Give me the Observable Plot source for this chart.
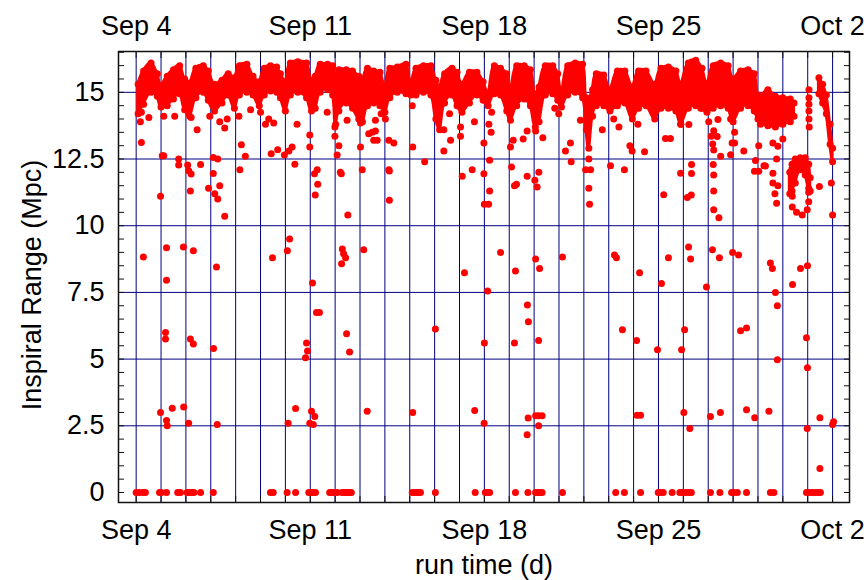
<!DOCTYPE html>
<html>
<head>
<meta charset="utf-8">
<script src="https://cdn.jsdelivr.net/npm/d3@7"></script>
<script src="https://cdn.jsdelivr.net/npm/@observablehq/plot@0.6"></script>
<style>
  html, body { margin: 0; padding: 0; background: #fff; }
  #chart { width: 868px; height: 580px; }
</style>
</head>
<body>
<div id="chart"></div>
<script>
// Run time is counted in days from Sep 4 00:00 UTC.
const runStart = Date.UTC(2009, 8, 4);

// Main inspiral-range band: upper and lower edge of the dense cloud of samples.
const bandDay = [0.08,0.3,0.6,0.85, 1.0,1.25,1.5,1.75,1.95, 2.15,2.4,2.7,2.9, 3.15,3.45,3.7,3.95,
  4.15,4.45,4.7,4.95, 5.15,5.4,5.65,5.8,6.0, 6.2,6.5,6.85,7.05, 7.2,7.4,7.7,7.9,8.02,
  8.15,8.45,8.7,8.95,9.1, 9.3,9.55,9.8,10.0, 10.2,10.5,10.85,11.05, 11.25,11.55,11.85,
  12.05,12.2,12.4,12.7,12.9, 13.1,13.4,13.7,13.95, 14.15,14.4,14.65,14.9,15.05,
  15.3,15.6,15.85,16.05, 16.2,16.45,16.75,16.95,17.1, 17.35,17.65,17.95,18.1,18.2,18.35,
  18.5,18.8,19.05, 19.35,19.65,19.95, 20.2,20.5,20.85, 21.1,21.4,21.7,21.9,
  22.2,22.5,22.75,22.95, 23.2,23.5,23.8,24.0, 24.3,24.6,24.85,25.0,
  25.1,25.4,25.7,26.0,26.3,26.45, 26.9, 27.45,27.6,27.75,27.9,28.0];
const bandHigh = [15.3,15.8,16.1,15.7, 15.25,15.6,15.85,16.0,15.5, 15.35,15.9,16.0,15.8, 15.3,15.45,15.7,15.55,
  16.0,16.05,15.6,15.4, 15.9,16.0,15.95,15.7,15.4, 16.1,16.15,16.1,15.45, 15.6,16.05,16.05,16.0,15.4,
  15.85,15.85,15.8,15.6,15.5, 15.9,15.8,15.75,15.2, 15.9,15.95,16.05,15.3, 15.9,16.0,16.0,
  15.45,15.2,15.7,15.9,15.75, 15.3,15.75,15.75,15.4, 14.95,16.0,15.9,15.7,15.05,
  16.0,16.0,15.85,14.9, 15.2,16.0,16.0,15.7,14.95, 16.0,16.1,16.05,14.8,14.7,15.1,
  15.7,15.65,15.1, 15.8,15.8,15.2, 15.8,15.8,15.3, 15.9,15.95,15.8,15.3,
  16.1,16.2,15.9,15.3, 16.0,16.1,16.0,15.5, 15.8,15.85,15.7,14.9,
  14.8,15.1,14.85,14.8,14.75,14.6, null, 15.55,15.3,14.9,13.8,12.9];
const bandLow = [14.2,14.55,15.0,14.85, 14.45,14.5,14.75,14.95,14.35, 14.1,14.8,15.0,14.7, 14.3,14.6,14.9,14.4,
  14.9,15.0,14.9,14.5, 14.9,15.05,15.0,14.8,14.3, 14.9,15.0,14.8,14.3, 14.4,15.0,15.1,14.9,13.8,
  14.3,14.6,14.4,14.0,13.9, 14.5,14.6,14.5,14.25, 14.8,15.0,14.95,14.9, 14.9,15.0,14.9,
  14.0,13.6,14.6,14.9,14.5, 14.25,14.6,14.9,14.7, 14.5,14.95,14.9,14.3,13.95,
  14.5,14.75,14.5,13.7, 13.9,14.9,14.95,14.7,14.45, 14.9,15.0,14.8,13.6,12.9,14.1,
  14.5,14.5,14.3, 14.5,14.6,14.0, 14.4,14.5,14.0, 14.4,14.4,14.3,13.8,
  14.4,14.5,14.4,14.25, 14.4,14.5,14.4,13.9, 14.4,14.5,14.3,14.0,
  13.8,13.75,13.7,13.8,13.9,14.1, null, 14.95,14.6,14.2,13.05,12.4];

// Reduced-range stretch on Sep 30 - Oct 1.
const archDay = [26.28,26.37,26.5,26.7,26.9,27.04,27.1];
const archHigh = [12.0,12.3,12.5,12.55,12.55,12.3,11.8];
const archLow = [11.2,11.3,11.6,12.1,11.9,11.4,11.3];

// Isolated samples below the band.
const highDay = [0.17,0.21,0.21,0.51,1.05,1.11,1.11,1.55,1.71,1.71,2.07,2.11,2.21,2.21,2.59,2.45,2.96,3.10,3.28,3.10,
  2.91,3.36,3.16,3.28,3.56,2.18,0.98,3.56,3.36,3.66,4.13,4.17,4.23,4.39,4.6,5.0,5.2,5.53,5.33,5.43,
  5.69,5.96,6.14,6.27,6.38,6.47,6.98,6.98,7.17,7.28,7.3,7.2,7.99,8.15,8.08,8.21,8.25,8.51,9.02,9.09,
  9.35,9.55,8.48,7.99,9.02,7.68,9.49,9.62,9.69,9.62,10.02,9.85,10.16,10.36,10.16,10.18,10.18,11.1,11.12,11.6,
  12.37,12.37,12.64,12.6,13.04,13.04,13.11,13.51,13.6,13.98,13.98,14.21,14.21,14.0,14.17,14.18,14.27,14.29,15.05,15.16,
  15.09,15.29,15.21,15.56,15.72,16.03,16.12,16.19,16.35,16.06,15.72,17.26,17.46,17.49,16.99,16.83,18.07,18.27,18.2,18.2,
  18.23,18.74,19.07,19.63,19.85,19.94,19.41,19.2,17.86,20.44,20.17,20.61,21.28,21.48,21.21,21.89,21.89,22.22,22.33,22.33,
  22.16,22.32,22.7,23.02,23.12,23.18,23.22,23.36,23.22,23.2,23.22,23.22,23.22,23.43,23.5,23.39,23.9,23.96,24.06,24.06,
  23.9,24.43,24.9,24.86,25.03,25.03,25.24,25.3,25.6,25.8,26.0,25.75,25.6,25.6,25.8,25.68,25.75,27.47,27.95,28.0,
  27.04,27.04,26.98,26.38,26.38,26.55,26.78,27.05,27.05,27.05,27.05,27.05,27.06];
const highRange = [13.9,13.12,14.25,14.06,12.62,12.62,14.1,14.1,12.5,12.28,12.28,12.06,11.94,14.06,12.29,13.6,14.1,12.56,12.5,11.96,
  11.4,11.5,11.2,11.0,10.35,11.3,11.1,13.66,13.9,14.0,14.1,12.1,13.03,12.6,14.35,14.25,13.8,13.85,14.0,12.7,
  12.85,12.65,12.8,12.95,12.3,13.8,13.4,12.95,11.95,12.1,11.55,11.15,13.35,13.0,12.65,12.0,11.95,10.4,12.95,12.1,
  13.45,13.2,13.95,13.7,13.85,14.25,13.5,13.55,13.2,13.95,14.0,14.2,13.2,13.1,12.1,12.05,10.95,14.5,12.95,12.4,
  13.6,12.8,13.2,14.2,13.7,13.35,11.85,12.1,13.9,13.1,11.95,12.45,11.3,10.8,10.8,13.8,13.5,14.25,12.95,13.2,
  12.2,11.55,11.5,13.25,11.85,11.7,11.45,12.0,13.3,13.55,13.55,12.8,13.1,12.4,14.2,14.4,12.1,12.1,12.5,11.4,
  10.8,13.6,12.25,12.1,13.0,12.8,13.7,14.0,13.95,12.77,13.8,14.66,13.27,13.27,11.16,11.97,13.8,13.79,12.29,11.96,
  11.06,11.15,14.4,13.9,13.35,13.06,13.56,13.34,12.84,12.29,11.9,11.3,10.6,10.3,12.6,13.98,12.66,13.1,13.1,13.5,
  14.0,12.8,12.44,12.04,12.04,13.0,12.25,12.24,13.1,12.98,13.25,12.5,11.97,11.6,11.5,11.2,10.84,11.47,11.6,10.4,
  11.25,10.9,10.6,11.1,10.7,10.5,10.4,15.1,14.8,14.55,14.3,14.0,13.7];

const midDay = [0.29,1.22,1.22,1.18,1.18,1.9,2.18,2.3,2.3,3.23,3.11,5.48,6.08,6.17,7.09,7.25,7.37,6.85,6.89,6.81,
  8.29,8.34,8.26,8.42,8.46,8.58,9.15,12.03,13.2,14.13,14.0,14.65,15.25,15.21,15.73,15.77,16.06,16.22,16.18,17.14,
  19.23,19.31,19.55,20.24,20.12,21.12,21.4,20.96,21.93,22.05,22.21,22.29,22.93,23.17,23.45,23.98,24.22,24.3,24.54,25.5,
  25.58,25.7,25.78,25.78,26.39,26.71,26.99,26.95,26.99];
const midRange = [8.83,9.17,7.96,6.0,5.75,9.2,5.75,5.57,9.06,8.45,5.4,8.8,9.06,9.5,7.85,6.75,6.75,5.6,5.3,5.05,
  9.13,8.95,8.57,8.8,5.95,5.27,9.1,6.13,8.24,7.55,5.6,9.0,8.3,5.6,7.03,6.4,8.75,8.4,5.7,8.83,
  8.9,8.8,6.1,8.24,5.7,7.83,8.8,5.35,5.35,6.1,9.2,8.75,7.7,9.1,8.8,9.0,8.9,6.06,6.17,8.6,
  8.4,7.5,7.0,4.98,7.8,8.4,8.5,5.8,4.68];

const lowDay = [0.98,1.22,1.25,1.45,1.91,2.11,3.26,6.11,6.41,6.98,7.05,7.12,7.18,9.29,11.12,13.61,13.99,15.76,15.72,16.06,
  16.18,16.32,16.18,20.14,20.28,22.02,22.26,23.09,23.49,24.54,24.87,25.44,26.98,27.49,27.49,28.0,28.04];
const lowRange = [3.0,2.7,2.5,3.16,3.2,2.6,2.55,2.6,3.15,2.6,3.05,2.55,2.85,3.05,3.0,3.07,2.6,2.79,2.16,2.88,
  2.88,2.88,2.5,2.9,2.9,3.0,2.4,2.85,3.0,3.1,2.8,3.05,2.4,2.8,0.9,2.55,2.65];

// Samples where the detector reported no range at all.
const zeroDay = [0.00,0.13,0.27,0.37,0.94,1.01,1.22,1.67,1.78,2.05,2.14,2.25,2.32,2.59,3.10,5.40,5.51,6.07,6.41,6.94,
  7.01,7.09,7.21,7.78,7.85,7.93,8.08,8.28,8.38,8.46,8.54,8.65,11.10,11.19,11.27,11.35,11.43,12.03,13.63,14.04,
  14.13,14.21,15.25,15.75,16.06,16.14,16.22,16.32,17.14,19.28,19.63,20.28,20.99,21.08,21.19,21.55,21.86,21.97,22.09,22.21,
  22.32,23.09,23.47,23.94,24.02,24.17,24.54,25.50,25.64,26.95,27.07,27.19,27.31,27.43,27.51];

// Axis ticks and grid.
const gridDays = d3.range(0, 29);
const labelDays = [0, 7, 14, 21, 28];
const gridRange = [2.5, 5, 7.5, 10, 12.5, 15];
const labelRange = [0, 2.5, 5, 7.5, 10, 12.5, 15];
const minorRange = d3.range(0, 16.6, 0.5);

const day = d => new Date(runStart + d * 864e5);
const pts = (ds, vs) => ds.map((d, i) => ({t: day(d), v: vs[i]}));

const band = bandDay.map((d, i) => ({t: day(d), high: bandHigh[i], low: bandLow[i]}));
const arch = archDay.map((d, i) => ({t: day(d), high: archHigh[i], low: archLow[i]}));
const bandEdge = band.concat(arch).filter(r => r.high != null);
const scatter = pts(highDay, highRange)
  .concat(pts(midDay, midRange))
  .concat(pts(lowDay, lowRange))
  .concat(zeroDay.map(d => ({t: day(d), v: 0})));

const red = "#ff0000";
const navy = "#000080";
const fmt = d3.utcFormat("%b %-d");
const font = 27;

const chart = Plot.plot({
  width: 868,
  height: 580,
  marginLeft: 118,
  marginRight: 19,
  marginTop: 51,
  marginBottom: 78,
  style: {fontFamily: "'Liberation Sans', Arial, sans-serif", fontSize: font + "px", color: "#000", background: "#fff"},
  x: {type: "utc", domain: [day(-0.71), day(28.68)]},
  y: {domain: [-0.375, 16.53]},
  marks: [
    Plot.ruleX(gridDays.map(day), {stroke: navy, strokeWidth: 1}),
    Plot.ruleY(gridRange, {stroke: navy, strokeWidth: 1}),
    Plot.areaY(band, {x: "t", y1: "low", y2: "high", fill: red, stroke: red, strokeWidth: 3, curve: "catmull-rom"}),
    Plot.areaY(arch, {x: "t", y1: "low", y2: "high", fill: red, stroke: red, strokeWidth: 3, curve: "catmull-rom"}),
    Plot.dot(bandEdge, {x: "t", y: "high", r: 3.5, fill: red}),
    Plot.dot(bandEdge, {x: "t", y: "low", r: 3.5, fill: red}),
    Plot.dot(scatter, {x: "t", y: "v", r: 3.5, fill: red}),
    Plot.frame({stroke: "#111", strokeWidth: 1.5}),
    // inward minor ticks on all four sides
    Plot.axisY(minorRange, {anchor: "left", tickSize: 6, dx: 6, tickFormat: () => "", label: null, stroke: "#111"}),
    Plot.axisY(minorRange, {anchor: "right", tickSize: 6, dx: -6, tickFormat: () => "", label: null, stroke: "#111"}),
    Plot.axisX(gridDays.map(day), {anchor: "top", tickSize: 6, dy: 6, tickFormat: () => "", label: null, stroke: "#111"}),
    Plot.axisX(gridDays.map(day), {anchor: "bottom", tickSize: 6, dy: -6, tickFormat: () => "", label: null, stroke: "#111"}),
    // labels
    Plot.axisY(labelRange, {anchor: "left", tickSize: 0, tickPadding: 14, tickFormat: d => String(d), fontSize: font, label: null}),
    Plot.axisX(labelDays.map(day), {anchor: "top", tickSize: 0, tickPadding: 17, tickFormat: fmt, fontSize: font, label: null}),
    Plot.axisX(labelDays.map(day), {anchor: "bottom", tickSize: 0, tickPadding: 17, tickFormat: fmt, fontSize: font, label: null}),
    Plot.text(["run time (d)"], {frameAnchor: "bottom", dy: 71, lineAnchor: "bottom", textAnchor: "middle", fontSize: font, fill: "#000"}),
    Plot.text(["Inspiral Range (Mpc)"], {frameAnchor: "left", dx: -78, dy: 8, rotate: -90, textAnchor: "middle", lineAnchor: "bottom", fontSize: font, fill: "#000"})
  ]
});
document.getElementById("chart").appendChild(chart);
</script>
</body>
</html>
